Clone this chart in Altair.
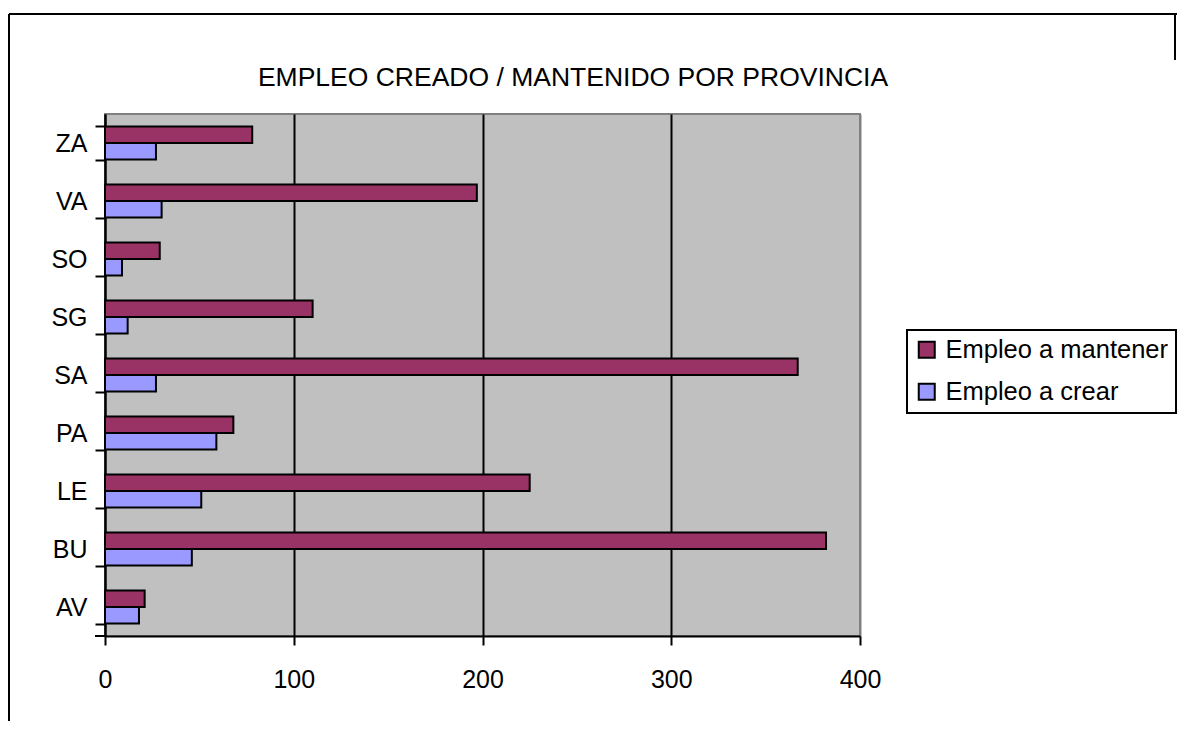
import altair as alt
import pandas as pd

provincias = ["AV", "BU", "LE", "PA", "SA", "SG", "SO", "VA", "ZA"]
empleo_mantener = [21, 382, 225, 68, 367, 110, 29, 197, 78]
empleo_crear = [18, 46, 51, 59, 27, 12, 9, 30, 27]
series = ["Empleo a mantener", "Empleo a crear"]
colores = ["#993366", "#9999FF"]
titulo = "EMPLEO CREADO / MANTENIDO POR PROVINCIA"
x_ticks = [0, 100, 200, 300, 400]

rows = []
for p, m, c in zip(provincias, empleo_mantener, empleo_crear):
    rows.append({"prov": p, "serie": series[0], "valor": m})
    rows.append({"prov": p, "serie": series[1], "valor": c})
df = pd.DataFrame(rows)

FONT = "Liberation Sans"
W, H = 755, 522

bars = alt.Chart(df).mark_bar(stroke="black", strokeWidth=2).encode(
    x=alt.X("valor:Q",
            scale=alt.Scale(domain=[0, 400], nice=False),
            axis=alt.Axis(values=x_ticks, title=None, grid=True,
                          gridColor={"condition": {"test": "datum.value === 400", "value": "#808080"}, "value": "black"},
                          gridWidth=2, domainColor="black", domainWidth=2,
                          tickColor="black", tickWidth=2, tickSize=9,
                          labelFontSize=25, labelFont=FONT, labelColor="black",
                          labelPadding=22, labelFlush=False)),
    y=alt.Y("prov:N", sort=list(reversed(provincias)),
            scale=alt.Scale(paddingInner=0.43, paddingOuter=0.215),
            axis=alt.Axis(title=None, domainColor="black", domainWidth=2,
                          tickColor="black", tickWidth=2, tickSize=10, tickBand="extent",
                          labelFontSize=25, labelFont=FONT, labelColor="black",
                          labelPadding=8)),
    yOffset=alt.YOffset("serie:N", sort=series),
    color=alt.Color("serie:N", sort=series,
                    scale=alt.Scale(domain=series, range=colores),
                    legend=alt.Legend(title=None, orient="none", legendX=802, legendY=216,
                                      strokeColor="black", padding=7,
                                      symbolType="square", symbolSize=256,
                                      symbolStrokeColor="black", symbolStrokeWidth=2,
                                      symbolOpacity=1, labelFontSize=25.5, labelFont=FONT,
                                      labelColor="black", labelOffset=6, rowPadding=15,
                                      labelLimit=400)),
)

title_df = pd.DataFrame({"t": [titulo]})
title_mark = alt.Chart(title_df).mark_text(
    fontSize=26.5, font=FONT, color="black", align="center", baseline="middle"
).encode(text="t:N", x=alt.value(468), y=alt.value(-36))

frame_df = pd.DataFrame({"k": [0]})
top_line = alt.Chart(frame_df).mark_rule(color="black", strokeWidth=2).encode(
    x=alt.value(-96), x2=alt.value(1072), y=alt.value(-100))
left_line = alt.Chart(frame_df).mark_rule(color="black", strokeWidth=2).encode(
    x=alt.value(-96), y=alt.value(-100), y2=alt.value(620))
right_line = alt.Chart(frame_df).mark_rule(color="black", strokeWidth=2).encode(
    x=alt.value(1070), y=alt.value(-100), y2=alt.value(-54))
bottom_tick = alt.Chart(frame_df).mark_rule(color="black", strokeWidth=2).encode(
    x=alt.value(-10), x2=alt.value(0), y=alt.value(H))

chart = alt.layer(bars, title_mark, top_line, left_line, right_line, bottom_tick).properties(
    width=W, height=H,
    autosize=alt.AutoSizeParams(type="none"),
    padding={"left": 97, "top": 106, "right": 317, "bottom": 85},
    background="white",
).configure_view(
    fill="#C0C0C0", stroke="#808080", strokeWidth=2
).configure_legend(
    strokeWidth=2
)

chart.save("out.html", embed_options={"renderer": "svg", "actions": False})
